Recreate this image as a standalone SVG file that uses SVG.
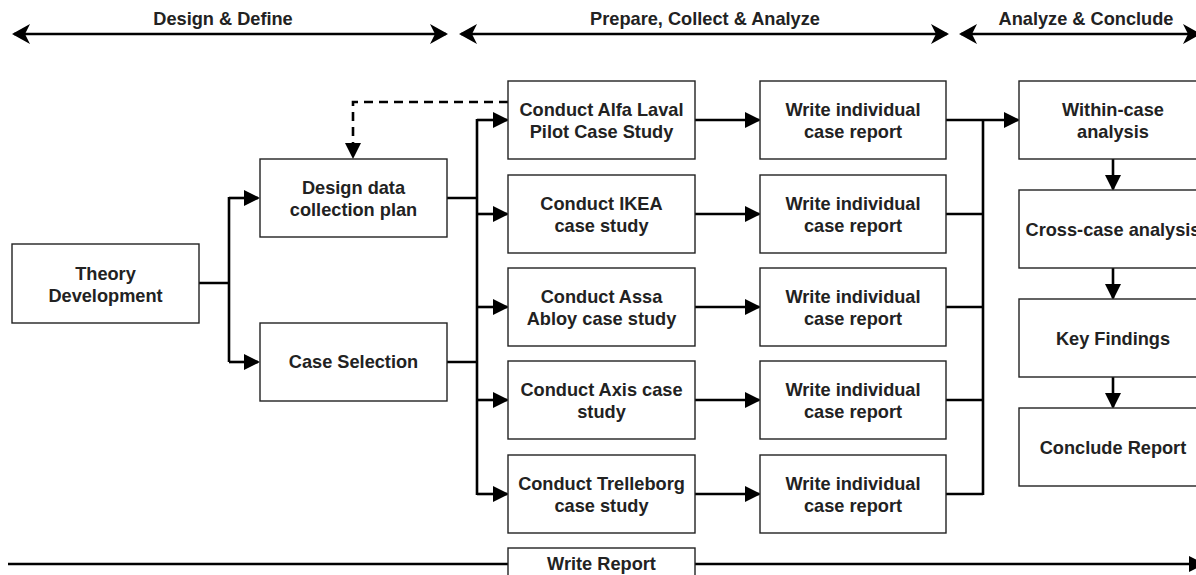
<svg xmlns="http://www.w3.org/2000/svg" width="1196" height="575" viewBox="0 0 1196 575">
<style>
.box{fill:#fff;stroke:#222;stroke-width:1.4}
.t{font-family:"Liberation Sans",Arial,Helvetica,sans-serif;font-weight:bold;font-size:18.2px;fill:#222;text-anchor:middle}
.c{fill:none;stroke:#000;stroke-width:2.6}
.d{fill:none;stroke:#000;stroke-width:2.6;stroke-dasharray:9 6}
</style>
<defs>
<marker id="blk" markerUnits="userSpaceOnUse" markerWidth="18" markerHeight="18" refX="14" refY="8" orient="auto" overflow="visible">
<path d="M0,0 L16,8 L0,16 Z" fill="#000"/>
</marker>
<marker id="cls" markerUnits="userSpaceOnUse" markerWidth="20" markerHeight="22" refX="16" refY="10" orient="auto-start-reverse" overflow="visible">
<path d="M0,0 L18,10 L0,20 L5,10 Z" fill="#000"/>
</marker>
</defs>

<g id="phases">
<path class="c" d="M14,34 H446" marker-start="url(#cls)" marker-end="url(#cls)"/>
<text class="t" x="223" y="25">Design &amp; Define</text>
<path class="c" d="M461,34 H947" marker-start="url(#cls)" marker-end="url(#cls)"/>
<text class="t" x="705" y="25">Prepare, Collect &amp; Analyze</text>
<path class="c" d="M961,34 H1199" marker-start="url(#cls)" marker-end="url(#cls)"/>
<text class="t" x="1086" y="25">Analyze &amp; Conclude</text>
</g>

<g id="connectors">
<path class="c" d="M199,283 H229 M229,197 V362"/>
<path class="c" d="M229,198 H258" marker-end="url(#blk)"/>
<path class="c" d="M229,362 H258" marker-end="url(#blk)"/>
<path class="d" d="M508,102 H353 V157" marker-end="url(#blk)"/>
<path class="c" d="M447,198 H477 M447,362 H477 M477,119 V495"/>
<path class="c" d="M477,120 H507" marker-end="url(#blk)"/>
<path class="c" d="M477,214 H507" marker-end="url(#blk)"/>
<path class="c" d="M477,307 H507" marker-end="url(#blk)"/>
<path class="c" d="M477,400 H507" marker-end="url(#blk)"/>
<path class="c" d="M477,494 H507" marker-end="url(#blk)"/>
<path class="c" d="M695,120 H759" marker-end="url(#blk)"/>
<path class="c" d="M695,214 H759" marker-end="url(#blk)"/>
<path class="c" d="M695,307 H759" marker-end="url(#blk)"/>
<path class="c" d="M695,400 H759" marker-end="url(#blk)"/>
<path class="c" d="M695,494 H759" marker-end="url(#blk)"/>
<path class="c" d="M946,214 H983 M946,307 H983 M946,400 H983 M946,494 H983 M983,119 V495"/>
<path class="c" d="M946,120 H1018" marker-end="url(#blk)"/>
<path class="c" d="M1113,159 V189" marker-end="url(#blk)"/>
<path class="c" d="M1113,268 V298" marker-end="url(#blk)"/>
<path class="c" d="M1113,377 V407" marker-end="url(#blk)"/>
<path class="c" d="M8,564 H508 M695,564 H1190" />
<path class="c" d="M1190,564 H1203" marker-end="url(#blk)"/>
</g>

<g id="theory"><rect class="box" x="12" y="244" width="187" height="79"/>
<text class="t" x="105.5" y="280">Theory</text><text class="t" x="105.5" y="302">Development</text></g>

<g id="design-plan"><rect class="box" x="260" y="159" width="187" height="78"/>
<text class="t" x="353.5" y="194">Design data</text><text class="t" x="353.5" y="216">collection plan</text></g>

<g id="case-selection"><rect class="box" x="260" y="323" width="187" height="78"/>
<text class="t" x="353.5" y="368">Case Selection</text></g>

<g id="alfa"><rect class="box" x="508" y="81" width="187" height="78"/>
<text class="t" x="601.5" y="116">Conduct Alfa Laval</text><text class="t" x="601.5" y="138">Pilot Case Study</text></g>
<g id="ikea"><rect class="box" x="508" y="175" width="187" height="78"/>
<text class="t" x="601.5" y="210">Conduct IKEA</text><text class="t" x="601.5" y="232">case study</text></g>
<g id="assa"><rect class="box" x="508" y="268" width="187" height="78"/>
<text class="t" x="601.5" y="303">Conduct Assa</text><text class="t" x="601.5" y="325">Abloy case study</text></g>
<g id="axis"><rect class="box" x="508" y="361" width="187" height="78"/>
<text class="t" x="601.5" y="396">Conduct Axis case</text><text class="t" x="601.5" y="418">study</text></g>
<g id="trelleborg"><rect class="box" x="508" y="455" width="187" height="78"/>
<text class="t" x="601.5" y="490">Conduct Trelleborg</text><text class="t" x="601.5" y="512">case study</text></g>

<g id="report1"><rect class="box" x="760" y="81" width="186" height="78"/>
<text class="t" x="853" y="116">Write individual</text><text class="t" x="853" y="138">case report</text></g>
<g id="report2"><rect class="box" x="760" y="175" width="186" height="78"/>
<text class="t" x="853" y="210">Write individual</text><text class="t" x="853" y="232">case report</text></g>
<g id="report3"><rect class="box" x="760" y="268" width="186" height="78"/>
<text class="t" x="853" y="303">Write individual</text><text class="t" x="853" y="325">case report</text></g>
<g id="report4"><rect class="box" x="760" y="361" width="186" height="78"/>
<text class="t" x="853" y="396">Write individual</text><text class="t" x="853" y="418">case report</text></g>
<g id="report5"><rect class="box" x="760" y="455" width="186" height="78"/>
<text class="t" x="853" y="490">Write individual</text><text class="t" x="853" y="512">case report</text></g>

<g id="within"><rect class="box" x="1019" y="81" width="188" height="78"/>
<text class="t" x="1113" y="116">Within-case</text><text class="t" x="1113" y="138">analysis</text></g>
<g id="cross"><rect class="box" x="1019" y="190" width="188" height="78"/>
<text class="t" x="1113" y="236">Cross-case analysis</text></g>
<g id="findings"><rect class="box" x="1019" y="299" width="188" height="78"/>
<text class="t" x="1113" y="345">Key Findings</text></g>
<g id="conclude"><rect class="box" x="1019" y="408" width="188" height="78"/>
<text class="t" x="1113" y="454">Conclude Report</text></g>

<g id="write-report"><rect class="box" x="508" y="548" width="187" height="40"/>
<text class="t" x="601.5" y="570">Write Report</text></g>
</svg>
